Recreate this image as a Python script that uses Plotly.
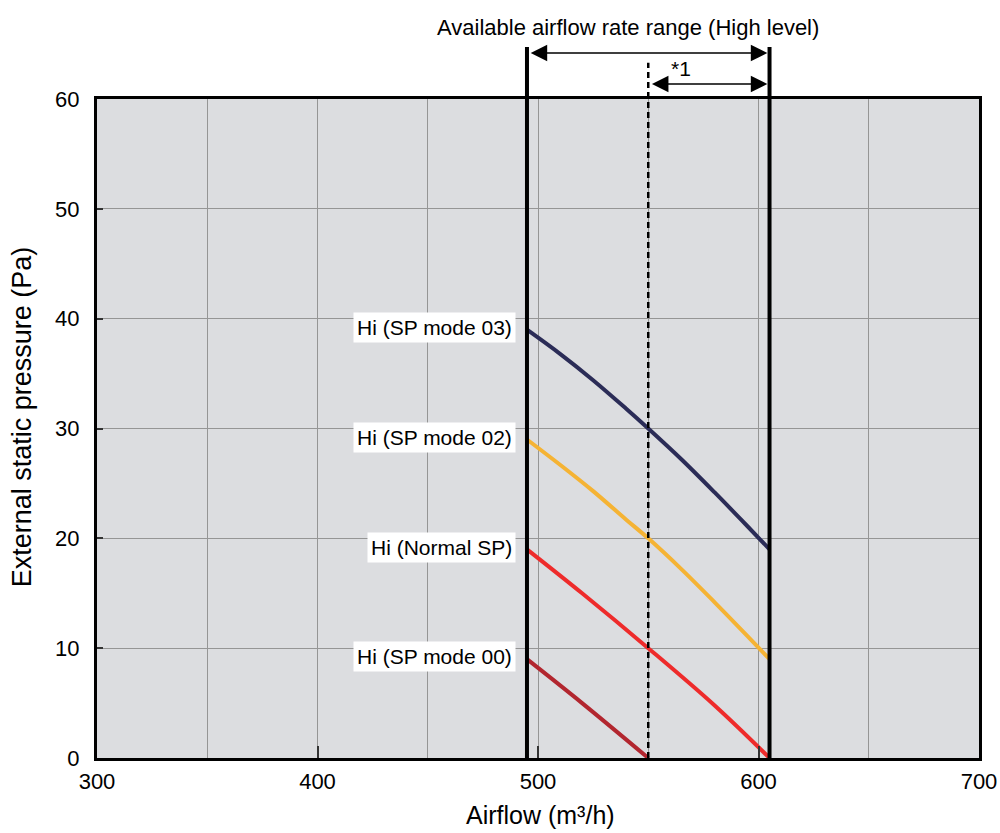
import plotly.graph_objects as go

# Data
x_mode03 = [495, 510, 525, 540, 550, 565, 580, 595, 605]
y_mode03 = [39, 36.8, 34.4, 31.8, 30, 27.2, 24.2, 21.1, 19]
x_mode02 = [495, 510, 525, 540, 550, 565, 580, 595, 605]
y_mode02 = [29, 26.7, 24.3, 21.7, 20, 17.2, 14.2, 11.1, 9]
x_normal = [495, 520, 550, 580, 605]
y_normal = [19, 15, 10, 4.8, 0]
x_mode00 = [495, 520, 550]
y_mode00 = [9, 5, 0]

series_names = ["Hi (SP mode 03)", "Hi (SP mode 02)", "Hi (Normal SP)", "Hi (SP mode 00)"]
series_colors = ["#2b2c57", "#f5b334", "#ee2b2b", "#b2262f"]
label_y = [39.2, 29.2, 19.2, 9.2]

range_min, range_max, range_mid = 495, 605, 550
x_ticks = [300, 400, 500, 600, 700]
y_ticks = [0, 10, 20, 30, 40, 50, 60]

x_title = "Airflow (m³/h)"
y_title = "External static pressure (Pa)"
top_title = "Available airflow rate range (High level)"

FONT = "Liberation Sans, Arial, sans-serif"

fig = go.Figure()
xs = [x_mode03, x_mode02, x_normal, x_mode00]
ys = [y_mode03, y_mode02, y_normal, y_mode00]
for xv, yv, name, c in zip(xs, ys, series_names, series_colors):
    fig.add_trace(go.Scatter(x=xv, y=yv, mode="lines", name=name,
                             line=dict(color=c, width=4, shape="spline"),
                             showlegend=False))

shapes = [
    dict(type="line", xref="x", yref="paper", x0=range_min, x1=range_min, y0=0, y1=1.079,
         line=dict(color="black", width=4)),
    dict(type="line", xref="x", yref="paper", x0=range_max, x1=range_max, y0=0, y1=1.079,
         line=dict(color="black", width=4)),
    dict(type="line", xref="x", yref="paper", x0=range_mid, x1=range_mid, y0=0, y1=1.055,
         line=dict(color="black", width=2.5, dash="6px,4px")),
]

annotations = []
for name, yv in zip(series_names, label_y):
    annotations.append(dict(x=490, y=yv, xref="x", yref="y", text=name, showarrow=False,
                            xanchor="right", yanchor="middle", bgcolor="white",
                            font=dict(family=FONT, size=21, color="black"),
                            borderpad=3))

annotations.append(dict(x=541, y=1.108, xref="x", yref="paper",
                        text=top_title, showarrow=False,
                        xanchor="center", yanchor="middle",
                        font=dict(family=FONT, size=22, color="black")))
annotations.append(dict(x=565, y=1.046, xref="x", yref="paper", text="*1", showarrow=False,
                        xanchor="center", yanchor="middle",
                        font=dict(family=FONT, size=21, color="black")))
# axis titles
annotations.append(dict(x=0.503, y=-0.0865, xref="paper", yref="paper", text=x_title,
                        showarrow=False, xanchor="center", yanchor="middle",
                        font=dict(family=FONT, size=25, color="black")))
annotations.append(dict(x=-0.085, y=0.517, xref="paper", yref="paper", text=y_title,
                        showarrow=False, xanchor="center", yanchor="middle", textangle=-90,
                        font=dict(family=FONT, size=27, color="black")))
# arrows
annotations.append(dict(x=range_max - 1, y=1.0698, xref="x", yref="paper", text="",
                        ax=range_min + 1, ay=0, axref="x", ayref="pixel",
                        showarrow=True, arrowhead=2, arrowside="end+start",
                        arrowsize=2.2, arrowwidth=1.5, arrowcolor="black",
                        standoff=0, startstandoff=0))
annotations.append(dict(x=range_max - 1, y=1.0228, xref="x", yref="paper", text="",
                        ax=range_mid + 1, ay=0, axref="x", ayref="pixel",
                        showarrow=True, arrowhead=2, arrowside="end+start",
                        arrowsize=2.2, arrowwidth=1.5, arrowcolor="black",
                        standoff=0, startstandoff=0))

fig.update_layout(
    width=1000, height=833,
    margin=dict(l=97, r=21, t=99, b=75),
    paper_bgcolor="white", plot_bgcolor="#dcdde0",
    font=dict(family=FONT, size=22, color="black"),
    shapes=shapes, annotations=annotations,
    xaxis=dict(range=[300, 700], tickvals=x_ticks, showgrid=True, gridcolor="#959595",
               gridwidth=1, minor=dict(dtick=50, showgrid=True, gridcolor="#959595", gridwidth=1),
               ticks="inside", ticklen=12, tickwidth=2, tickcolor="#333333",
               showline=True, linecolor="black", linewidth=3, mirror=True,
               zeroline=False, tickfont=dict(size=22), ticklabelstandoff=2,
               automargin=False),
    yaxis=dict(range=[0, 60], tickvals=y_ticks, showgrid=True, gridcolor="#959595", gridwidth=1,
               ticks="inside", ticklen=6, tickwidth=2, tickcolor="#333333",
               showline=True, linecolor="black", linewidth=3, mirror=True,
               zeroline=False, tickfont=dict(size=22), ticklabelstandoff=10,
               automargin=False),
)

fig.write_html("out.html", post_script="document.body.style.margin='0';",
               config={"displayModeBar": False})
